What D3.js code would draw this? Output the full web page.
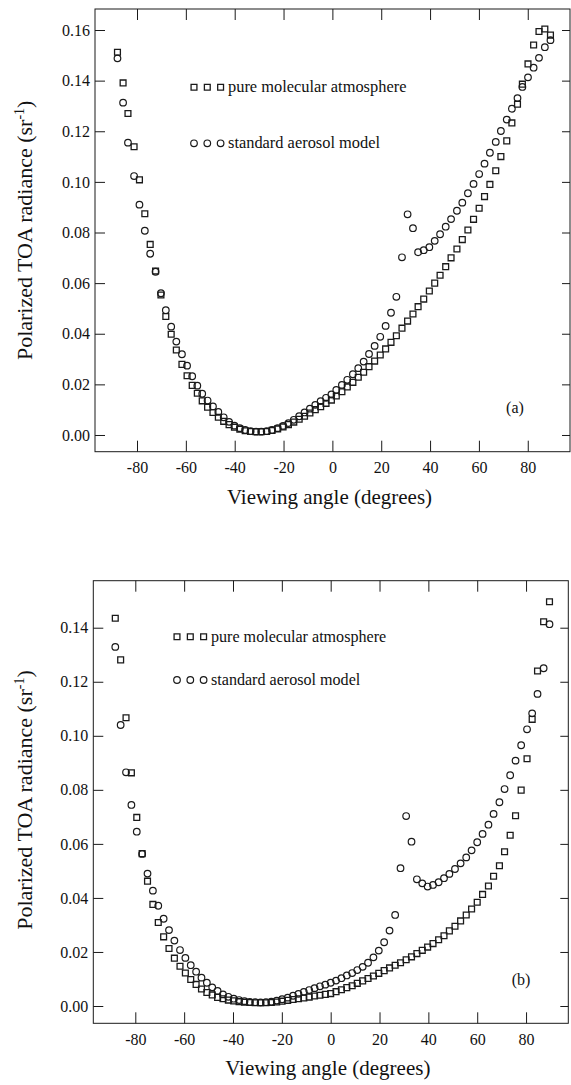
<!DOCTYPE html>
<html>
<head>
<meta charset="utf-8">
<script src="https://cdn.jsdelivr.net/npm/d3@7"></script>
<style>
  html, body { margin: 0; padding: 0; background: #fff; }
  svg { display: block; }
  text { font-family: "Liberation Serif", "Times New Roman", serif; fill: #111; }
</style>
</head>
<body>
<svg id="chart" width="571" height="1085"></svg>
<script>
// ---- Panel (a): viewing angle (degrees) and polarized TOA radiance (sr^-1)
const anglesA = [
  -88.0, -85.7, -83.7, -81.2, -79.0, -76.8, -74.6, -72.4, -70.2, -68.2, -66.0, -63.9, -61.6, -59.5, -57.4, -55.3,
  -53.3, -51.1, -48.9, -46.7, -44.5, -42.3, -40.1, -37.9, -35.7, -33.5, -31.3, -29.1, -26.9, -24.7, -22.4, -20.2,
  -18.0, -15.8, -13.6, -11.4, -9.2, -7.0, -4.8, -2.6,
  -0.4, 1.6, 3.9, 6.1, 8.4, 10.6, 12.8, 15.0, 17.3, 19.6, 21.8, 24.0, 26.2, 28.5, 30.8, 33.0, 35.1, 37.4, 39.7, 41.9,
  44.1, 46.4, 48.6, 51.0, 53.2, 55.5, 57.8, 60.1, 62.3, 64.5, 66.9, 69.0, 71.4, 73.5, 75.8, 77.8, 80.1, 82.4, 84.6, 87.0, 89.3
];
const molecularA = [
  0.1512, 0.1391, 0.1270, 0.1139, 0.1008, 0.0874, 0.0753, 0.0648, 0.0553, 0.0468, 0.0398, 0.0336, 0.0279, 0.0234, 0.0196, 0.0165,
  0.0135, 0.0110, 0.0089, 0.0070, 0.0054, 0.0041, 0.0031, 0.0023, 0.0017, 0.0014, 0.0013, 0.0013, 0.0014, 0.0018, 0.0024, 0.0032,
  0.0041, 0.0051, 0.0062, 0.0074, 0.0087, 0.0100, 0.0112, 0.0125,
  0.0138, 0.0154, 0.0171, 0.0190, 0.0208, 0.0228, 0.0248, 0.0270, 0.0292, 0.0316, 0.0340, 0.0366, 0.0392, 0.0422, 0.0450, 0.0478,
  0.0507, 0.0537, 0.0569, 0.0600, 0.0631, 0.0665, 0.0700, 0.0735, 0.0772, 0.0810, 0.0852, 0.0896, 0.0942, 0.0990, 0.1044, 0.1100,
  0.1162, 0.1233, 0.1307, 0.1386, 0.1466, 0.1541, 0.1594, 0.1604, 0.1580
];
const aerosolA = [
  0.1488, 0.1313, 0.1155, 0.1023, 0.0910, 0.0807, 0.0716, 0.0645, 0.0560, 0.0493, 0.0428, 0.0369, 0.0319, 0.0274, 0.0232, 0.0195,
  0.0163, 0.0136, 0.0113, 0.0091, 0.0070, 0.0052, 0.0037, 0.0027, 0.0020, 0.0015, 0.0013, 0.0013, 0.0015, 0.0020, 0.0027, 0.0036,
  0.0047, 0.0060, 0.0074, 0.0089, 0.0104, 0.0119, 0.0134, 0.0147,
  0.0160, 0.0178, 0.0198, 0.0218, 0.0240, 0.0264, 0.0290, 0.0320, 0.0352, 0.0388, 0.0431, 0.0483, 0.0546, 0.0702, 0.0872, 0.0817,
  0.0722, 0.0730, 0.0742, 0.0767, 0.0793, 0.0823, 0.0853, 0.0886, 0.0918, 0.0955, 0.0992, 0.1031, 0.1072, 0.1115, 0.1158, 0.1201,
  0.1246, 0.1289, 0.1331, 0.1375, 0.1413, 0.1451, 0.1490, 0.1532, 0.1560
];

// ---- Panel (b)
const anglesB = [
  -88.2, -86.0, -83.8, -81.6, -79.4, -77.2, -75.0, -72.8, -70.6, -68.4, -66.2, -64.0, -61.7, -59.5, -57.3, -55.1,
  -52.9, -50.7, -48.5, -46.3, -44.1, -41.9, -39.7, -37.5, -35.3, -33.1, -30.9, -28.7, -26.5, -24.3, -22.1, -19.9,
  -17.6, -15.4, -13.2, -11.0, -8.8, -6.6, -4.4, -2.2,
  0.0, 2.2, 4.4, 6.6, 8.8, 10.9, 13.1, 15.3, 17.5, 19.7, 21.9, 24.1, 26.4, 28.6, 30.9, 33.1, 35.3, 37.5, 39.7, 41.9,
  44.2, 46.4, 48.6, 50.9, 53.2, 55.5, 57.7, 60.0, 62.2, 64.6, 66.7, 69.1, 71.2, 73.5, 75.7, 78.0, 80.4, 82.5, 84.7, 87.2, 89.6
];
const molecularB = [
  0.1435, 0.1281, 0.1067, 0.0863, 0.0698, 0.0564, 0.0462, 0.0376, 0.0309, 0.0256, 0.0213, 0.0177, 0.0147, 0.0122, 0.0098, 0.0080,
  0.0063, 0.0050, 0.0041, 0.0032, 0.0027, 0.0022, 0.0019, 0.0016, 0.0014, 0.0013, 0.0012, 0.0012, 0.0012, 0.0013, 0.0015, 0.0018,
  0.0021, 0.0024, 0.0027, 0.0030, 0.0033, 0.0037, 0.0040, 0.0043,
  0.0046, 0.0053, 0.0060, 0.0068, 0.0075, 0.0084, 0.0093, 0.0102, 0.0111, 0.0121, 0.0131, 0.0141, 0.0151, 0.0160, 0.0171, 0.0182,
  0.0194, 0.0206, 0.0218, 0.0231, 0.0245, 0.0260, 0.0278, 0.0295, 0.0315, 0.0337, 0.0359, 0.0384, 0.0413, 0.0444, 0.0480, 0.0519,
  0.0571, 0.0632, 0.0704, 0.0799, 0.0915, 0.1061, 0.1240, 0.1422, 0.1496
];
const aerosolB = [
  0.1329, 0.1040, 0.0865, 0.0744, 0.0645, 0.0563, 0.0490, 0.0427, 0.0371, 0.0323, 0.0281, 0.0242, 0.0207, 0.0178, 0.0151, 0.0127,
  0.0105, 0.0086, 0.0069, 0.0056, 0.0043, 0.0034, 0.0027, 0.0022, 0.0018, 0.0015, 0.0014, 0.0013, 0.0014, 0.0016, 0.0020, 0.0025,
  0.0031, 0.0038, 0.0045, 0.0052, 0.0059, 0.0066, 0.0073, 0.0079,
  0.0086, 0.0094, 0.0103, 0.0113, 0.0122, 0.0133, 0.0145, 0.0160, 0.0180, 0.0205, 0.0236, 0.0279, 0.0337, 0.0510, 0.0703, 0.0608,
  0.0469, 0.0454, 0.0442, 0.0448, 0.0458, 0.0473, 0.0489, 0.0507, 0.0528, 0.0550, 0.0576, 0.0606, 0.0637, 0.0671, 0.0711, 0.0754,
  0.0803, 0.0854, 0.0908, 0.0965, 0.1024, 0.1083, 0.1155, 0.1250, 0.1413
];

const xTickValues = [-80, -60, -40, -20, 0, 20, 40, 60, 80];
const yTickValuesA = [0, 0.02, 0.04, 0.06, 0.08, 0.10, 0.12, 0.14, 0.16];
const yTickValuesB = [0, 0.02, 0.04, 0.06, 0.08, 0.10, 0.12, 0.14];
const seriesNames = ["pure molecular atmosphere", "standard aerosol model"];
const xTitle = "Viewing angle (degrees)";
const panelLabels = ["(a)", "(b)"];

const svg = d3.select("#chart");
const ink = "#1a1a1a";

function drawPanel(opt) {
  const x = d3.scaleLinear().domain([-97.2, 97.3]).range([opt.left, opt.right]);
  const y = d3.scaleLinear().domain(opt.yDomain).range([opt.bottom, opt.top]);
  const g = svg.append("g");
  const fmt = d3.format(".2f");

  // frame
  g.append("rect")
    .attr("x", opt.left).attr("y", opt.top)
    .attr("width", opt.right - opt.left).attr("height", opt.bottom - opt.top)
    .attr("fill", "none").attr("stroke", ink).attr("stroke-width", 1);

  // bottom axis: inward ticks and labels
  const xb = g.append("g").attr("transform", `translate(0,${opt.bottom})`)
    .call(d3.axisBottom(x).tickValues(xTickValues).tickSizeInner(-11).tickSizeOuter(0).tickPadding(10)
      .tickFormat(d3.format("d")));
  // top axis: inward ticks only
  const xt = g.append("g").attr("transform", `translate(0,${opt.top})`)
    .call(d3.axisTop(x).tickValues(xTickValues).tickSizeInner(-11).tickSizeOuter(0).tickFormat(""));
  // left axis
  const yl = g.append("g").attr("transform", `translate(${opt.left},0)`)
    .call(d3.axisLeft(y).tickValues(opt.yTicks).tickSizeInner(-10).tickSizeOuter(0).tickPadding(5)
      .tickFormat(fmt));
  // right axis: inward ticks only
  const yr = g.append("g").attr("transform", `translate(${opt.right},0)`)
    .call(d3.axisRight(y).tickValues(opt.yTicks).tickSizeInner(-8).tickSizeOuter(0).tickFormat(""));

  [xb, xt, yl, yr].forEach(a => {
    a.select(".domain").remove();
    a.selectAll("line").attr("stroke", ink).attr("stroke-width", 1);
    a.selectAll("text").attr("font-family", "Liberation Serif").attr("font-size", 16).attr("fill", "#111");
  });
  // minus signs as plain hyphens, like the printed axis
  xb.selectAll("text").text(d => String(d));

  // x title
  g.append("text").attr("x", (opt.left + opt.right) / 2 - 3).attr("y", opt.bottom + 52)
    .attr("text-anchor", "middle").attr("font-size", 21).text(xTitle);

  // y title with superscript unit
  const yt = g.append("text")
    .attr("transform", `translate(32,${(opt.top + opt.bottom) / 2 + opt.yTitleShift}) rotate(-90)`)
    .attr("text-anchor", "middle").attr("font-size", 22);
  yt.append("tspan").text("Polarized TOA radiance (sr");
  yt.append("tspan").attr("font-size", 14).attr("dy", -8).text("-1");
  yt.append("tspan").attr("dy", 8).text(")");

  // panel tag
  g.append("text").attr("x", opt.tagX).attr("y", opt.tagY)
    .attr("text-anchor", "middle").attr("font-size", 16).text(opt.tag);

  const square = d3.symbol().type(d3.symbolSquare).size(34);

  // molecular series: open squares
  g.append("g").selectAll("path")
    .data(opt.angles.map((a, i) => [a, opt.molecular[i]]))
    .join("path")
    .attr("d", square)
    .attr("transform", d => `translate(${x(d[0])},${y(d[1])})`)
    .attr("fill", "none").attr("stroke", ink).attr("stroke-width", 1.3);

  // aerosol series: open circles
  g.append("g").selectAll("circle")
    .data(opt.angles.map((a, i) => [a, opt.aerosol[i]]))
    .join("circle")
    .attr("cx", d => x(d[0])).attr("cy", d => y(d[1])).attr("r", 3.3)
    .attr("fill", "none").attr("stroke", ink).attr("stroke-width", 1.2);

  // legend
  const lg = g.append("g");
  [0, 1].forEach(k => {
    const ly = opt.legendY[k];
    [0, 1, 2].forEach(j => {
      const lx = opt.legendX + j * 13.3;
      if (k === 0) {
        lg.append("path").attr("d", square).attr("transform", `translate(${lx},${ly})`)
          .attr("fill", "none").attr("stroke", ink).attr("stroke-width", 1.3);
      } else {
        lg.append("circle").attr("cx", lx).attr("cy", ly).attr("r", 3.3)
          .attr("fill", "none").attr("stroke", ink).attr("stroke-width", 1.2);
      }
    });
    lg.append("text").attr("x", opt.legendX + 34).attr("y", ly + 5)
      .attr("font-size", opt.legendFont).text(seriesNames[k]);
  });
}

drawPanel({
  left: 95, right: 570, top: 9, bottom: 451.7,
  yDomain: [-0.0066, 0.1683], yTicks: yTickValuesA,
  angles: anglesA, molecular: molecularA, aerosol: aerosolA,
  legendX: 194, legendY: [87.3, 143.3], legendFont: 16.4,
  tag: panelLabels[0], tagX: 515, tagY: 413, yTitleShift: 0
});

drawPanel({
  left: 93.3, right: 568.3, top: 580.7, bottom: 1023.3,
  yDomain: [-0.0064, 0.1574], yTicks: yTickValuesB,
  angles: anglesB, molecular: molecularB, aerosol: aerosolB,
  legendX: 177, legendY: [636.7, 680], legendFont: 16.1,
  tag: panelLabels[1], tagX: 521, tagY: 985, yTitleShift: -2
});
</script>
</body>
</html>
